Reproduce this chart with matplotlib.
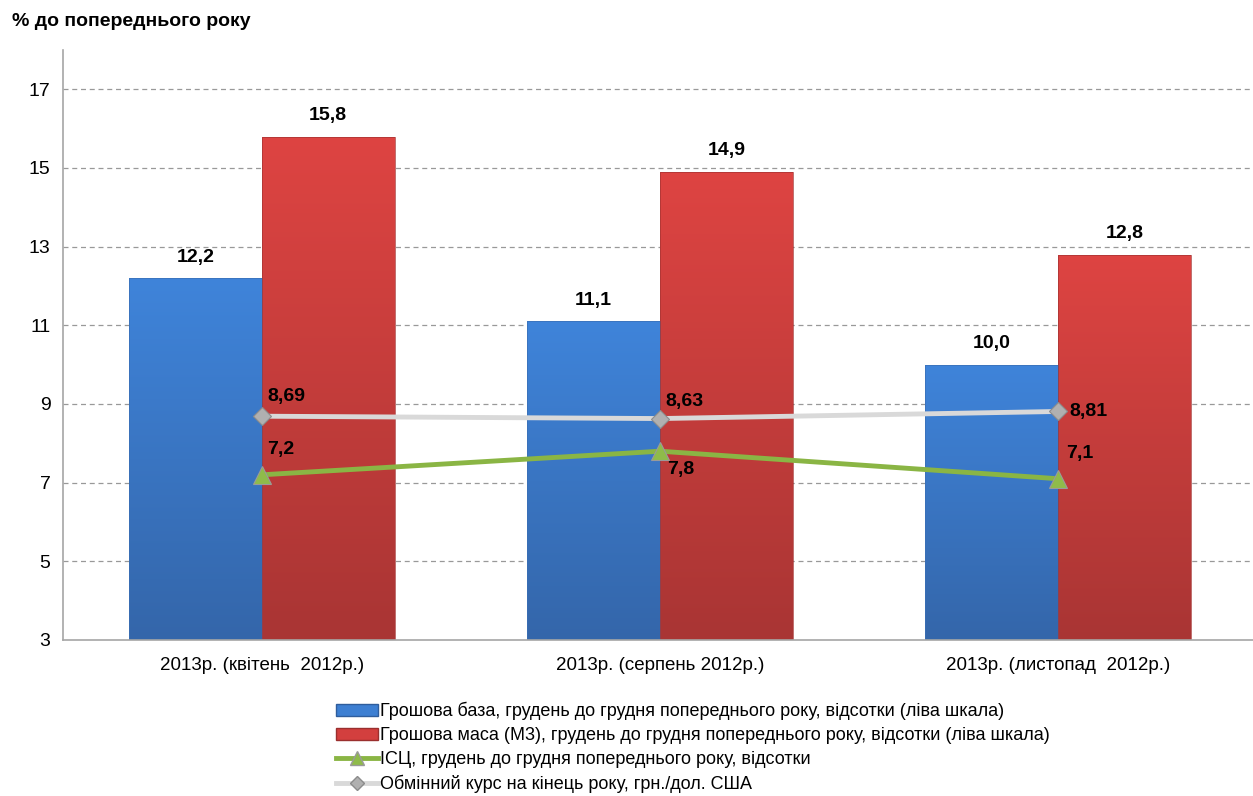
import matplotlib
matplotlib.use("Agg")
import matplotlib.pyplot as plt
import numpy as np
from matplotlib.colors import LinearSegmentedColormap

categories = ["2013р. (квітень  2012р.)", "2013р. (серпень 2012р.)", "2013р. (листопад  2012р.)"]
base = [12.2, 11.1, 10.0]
m3 = [15.8, 14.9, 12.8]
cpi = [7.2, 7.8, 7.1]
fx = [8.69, 8.63, 8.81]
yticks = [3, 5, 7, 9, 11, 13, 15, 17]
legend_labels = [
    "Грошова база, грудень до грудня попереднього року, відсотки (ліва шкала)",
    "Грошова маса (М3), грудень до грудня попереднього року, відсотки (ліва шкала)",
    "ІСЦ, грудень до грудня попереднього року, відсотки",
    "Обмінний курс на кінець року, грн./дол. США",
]

plt.rcParams["font.family"] = ["Liberation Sans", "DejaVu Sans"]

fig = plt.figure(figsize=(12.53, 7.96), dpi=100)
W, H = 1253, 796
ax = fig.add_axes([63 / W, 1 - 640 / H, 1194 / W, 590 / H])

x = np.arange(len(categories))
bw = 0.333

blue_cmap = LinearSegmentedColormap.from_list("b", ["#3466aa", "#3f84da"])
red_cmap = LinearSegmentedColormap.from_list("r", ["#a93534", "#de4442"])

def grad_bars(xs, vals, cmap, edge):
    bars = ax.bar(xs, vals, width=bw, bottom=0, color="none", edgecolor=edge, linewidth=0.5, zorder=2)
    for b in bars:
        x0 = b.get_x(); x1 = x0 + b.get_width(); top = b.get_height()
        grad = np.linspace(0, 1, 256).reshape(-1, 1)
        im = ax.imshow(grad, extent=[x0, x1, 3, top], origin="lower", cmap=cmap,
                       aspect="auto", zorder=1.9)
        im.set_clip_path(b)
    return bars

grad_bars(x - bw / 2, base, blue_cmap, "#3a6fb5")
grad_bars(x + bw / 2, m3, red_cmap, "#a53433")
ax.set_xlim(-0.5, 2.5)
ax.set_ylim(3, 18)

for xs, vals in ((x - bw / 2, base), (x + bw / 2, m3)):
    for xi, v in zip(xs, vals):
        ax.annotate(f"{v:.1f}".replace(".", ","), (xi, v), xytext=(0, 9), textcoords="offset points",
                    ha="center", va="bottom", fontsize=14, fontweight="bold")

ax.plot(x, fx, color="#d9d9d9", lw=3.5, marker="D", ms=9, mfc="#b0b0b0", mec="#8c8c8c",
        mew=0.8, zorder=4)
ax.plot(x, cpi, color="#8ab544", lw=3.5, marker="^", ms=13, mfc="#8fbb4a", mec="#9a9a9a",
        mew=0.8, zorder=4)

fx_off = [(4, 8), (4, 6), (8, 0)]
fx_va = ["bottom", "bottom", "center"]
for xi, v, o, va in zip(x, fx, fx_off, fx_va):
    ax.annotate(f"{v:.2f}".replace(".", ","), (xi, v), xytext=o, textcoords="offset points",
                ha="left", va=va, fontsize=14, fontweight="bold")
cpi_off = [(4, 12), (5, -7), (6, 12)]
cpi_va = ["bottom", "top", "bottom"]
for xi, v, o, va in zip(x, cpi, cpi_off, cpi_va):
    ax.annotate(f"{v:.1f}".replace(".", ","), (xi, v), xytext=o, textcoords="offset points",
                ha="left", va=va, fontsize=14, fontweight="bold")

ax.set_yticks(yticks)
ax.set_yticklabels([str(t) for t in yticks], fontsize=14)
ax.tick_params(axis="y", length=0, pad=9)
ax.set_xticks(x)
ax.set_xticklabels(categories, fontsize=13.5)
ax.tick_params(axis="x", length=0, pad=12)
for yv in yticks[1:]:
    ax.axhline(yv, color="#999999", lw=0.9, ls=(0, (4, 3)), zorder=0.5)
for s in ["top", "right"]:
    ax.spines[s].set_visible(False)
for s in ["left", "bottom"]:
    ax.spines[s].set_color("#a6a6a6")
    ax.spines[s].set_linewidth(1.2)

fig.text(12 / W, 1 - 22 / H, "% до попереднього року", fontsize=14, fontweight="bold",
         ha="left", va="center")

handles = [
    plt.Rectangle((0, 0), 1, 1, facecolor="#3d7fd2", edgecolor="#2f5d9c"),
    plt.Rectangle((0, 0), 1, 1, facecolor="#d33f3e", edgecolor="#9a2f2e"),
    plt.Line2D([], [], color="#8ab544", lw=3.5, marker="^", ms=10, mfc="#8fbb4a", mec="#9a9a9a"),
    plt.Line2D([], [], color="#d9d9d9", lw=3.5, marker="D", ms=7, mfc="#b0b0b0", mec="#8c8c8c"),
]
fig.legend(handles, legend_labels, loc="upper left", bbox_to_anchor=(336 / W, 1 - 702 / H),
           frameon=False, prop={"size": 13}, handlelength=2.3,
           handleheight=0.7, handletextpad=0.15, labelspacing=0.38, borderaxespad=0,
           borderpad=0)

fig.savefig("out.png", dpi=100)
